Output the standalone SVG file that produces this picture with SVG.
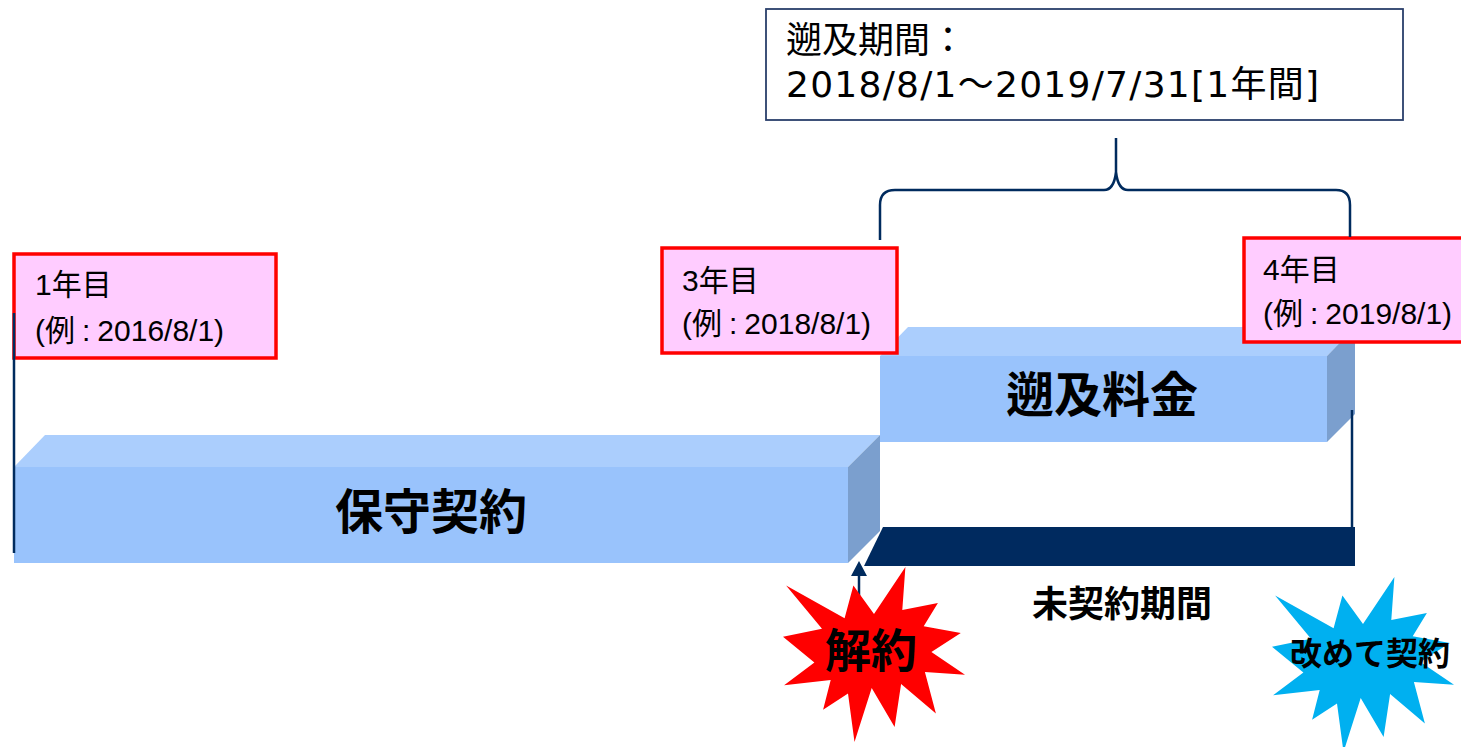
<svg xmlns="http://www.w3.org/2000/svg" xmlns:xlink="http://www.w3.org/1999/xlink" width="1461" height="747" viewBox="0 0 1461 747">
<style>
.lbl{fill:#FFCCFF;stroke:#FF0000;stroke-width:3.5}
.lt{font-family:"Liberation Sans","Noto Sans CJK JP",sans-serif;font-size:30px;fill:#000}
.top{fill:#ABCEFD}
.front{fill:#99C3FC}
.side{fill:#7B9FCE}
.bt{font-family:"Noto Sans CJK JP",sans-serif;font-weight:700;fill:#000;text-anchor:middle}
.nav{stroke:#002B5E;stroke-width:2.5;fill:none}
.hd{font-family:"DejaVu Sans","Noto Sans CJK JP",sans-serif;font-size:36px;fill:#000}
</style>
<defs>
<path id="burst" d="M91,47 L122.4,0 L119.3,43.1 L154.9,36.1 L140.7,59.3 L177.8,65.9 L148.4,84.9 L182,107.7 L141.9,104.9 L152.9,146.6 L118.1,117.1 L111.6,159.9 L88.7,121 L71.5,175 L65,126.6 L40.1,142.7 L47.7,112.9 L1.1,118.2 L31.4,95.4 L0,69.8 L39,61.7 L3.1,18.6 L61.6,51.2 L70.4,18.6 Z"/>
</defs>
<rect width="1461" height="747" fill="#fff"/>

<g id="period-box">
<rect x="766" y="9" width="637" height="111" fill="#fff" stroke="#2A3F6B" stroke-width="1.8"/>
<text class="hd" x="786" y="53">遡及期間：</text>
<text class="hd" x="786" y="97" textLength="533" lengthAdjust="spacing">2018/8/1～2019/7/31[1年間]</text>
</g>

<g id="bar-hoshu">
<polygon class="top" points="14,467 45,435 880,435 848,467"/>
<rect class="front" x="14" y="467" width="834" height="96"/>
<polygon class="side" points="848,467 880,435 880,531 848,563"/>
<text class="bt" x="431" y="529" font-size="48">保守契約</text>
</g>

<g id="bar-sokyu">
<polygon class="top" points="880,356 908,327 1355,327 1327,356"/>
<rect class="front" x="880" y="356" width="447" height="86"/>
<polygon class="side" points="1327,356 1355,327 1355,414 1327,442"/>
<text class="bt" x="1102" y="412" font-size="48">遡及料金</text>
</g>

<g id="bar-mikeiyaku">
<polygon points="883,527 1355,527 1355,566 864,566" fill="#002A5F"/>
<text class="bt" x="1122" y="617" font-size="36">未契約期間</text>
</g>

<g id="label-1">
<rect class="lbl" x="14" y="254" width="262" height="104"/>
<text class="lt" x="35" y="295">1年目</text>
<text class="lt" x="35" y="341">(例<tspan dx="7">:</tspan><tspan dx="7">2016/8/1)</tspan></text>
</g>

<g id="label-3">
<rect class="lbl" x="662" y="248" width="235" height="105"/>
<text class="lt" x="682" y="291">3年目</text>
<text class="lt" x="682" y="334">(例<tspan dx="7">:</tspan><tspan dx="7">2018/8/1)</tspan></text>
</g>

<g id="label-4">
<rect class="lbl" x="1244" y="238" width="222" height="104"/>
<text class="lt" x="1263" y="280">4年目</text>
<text class="lt" x="1263" y="324">(例<tspan dx="7">:</tspan><tspan dx="7">2019/8/1)</tspan></text>
</g>

<g id="connectors">
<path class="nav" d="M14,313 V553"/>
<path class="nav" d="M1352,410 V527"/>
<path class="nav" stroke-width="1.8" d="M880,240 V205 Q880,190 895,190 H1104 Q1114,190 1116,172 V138 M1116,172 Q1118,190 1128,190 H1336 Q1350,190 1350,205 V237"/>
<line class="nav" x1="859" y1="600" x2="859" y2="575"/>
<polygon points="859,561 851,576 867,576" fill="#002B5E"/>
</g>

<g id="kaiyaku">
<use xlink:href="#burst" href="#burst" x="783" y="567" fill="#FF0000"/>
<text class="bt" x="871" y="667" font-size="46">解約</text>
</g>

<g id="aratamete">
<use xlink:href="#burst" href="#burst" x="1272" y="577" fill="#00B0F0"/>
<text class="bt" x="1370" y="665" font-size="32">改めて契約</text>
</g>
</svg>
